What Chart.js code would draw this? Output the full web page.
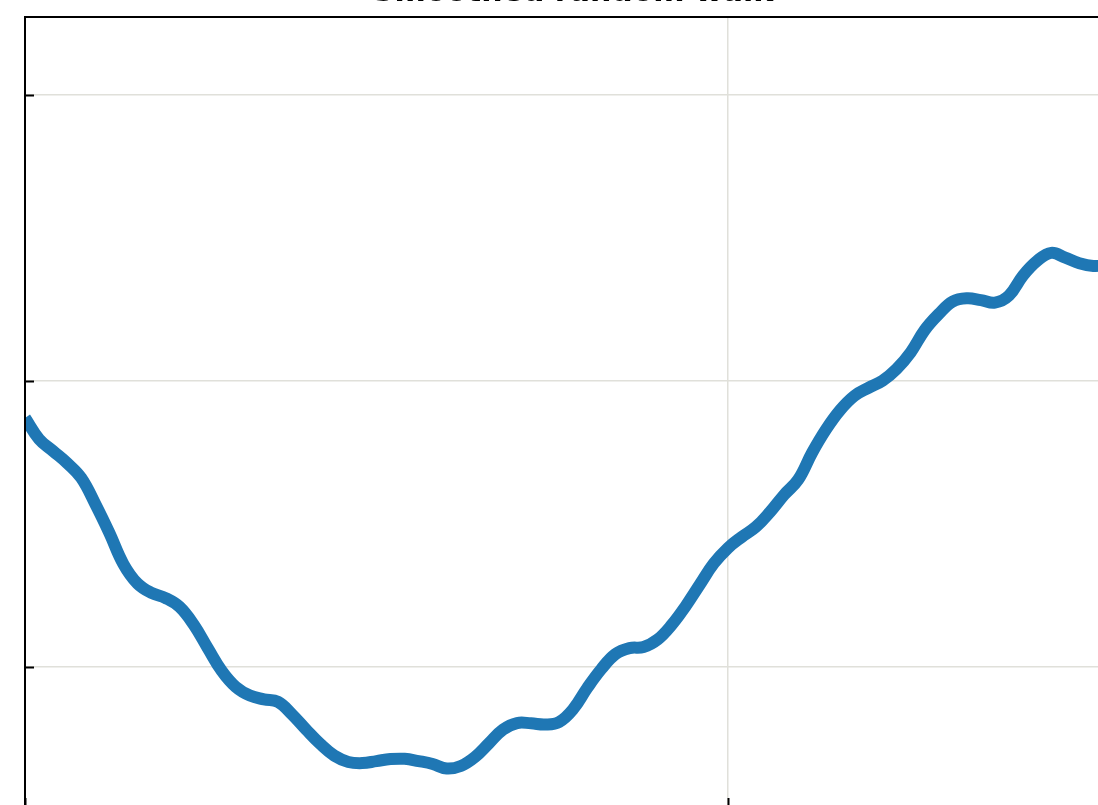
<!DOCTYPE html>
<html>
<head>
<meta charset="utf-8">
<script src="https://cdn.jsdelivr.net/npm/chart.js@4"></script>
<style>
    html, body { margin: 0; padding: 0; background: #fff; overflow: hidden; }
    #wrap { position: absolute; left: 0; top: 0; }
</style>
</head>
<body>
<div id="wrap"><canvas id="walkChart" width="1150" height="830"></canvas></div>
<script>
// x: time step, y: smoothed signal value
const steps = [];
for (let i = 0; i <= 78; i++) steps.push(i * 20);

const signal = [
    -0.129, -0.203, -0.245, -0.287, -0.339, -0.430, -0.531, -0.640, -0.708, -0.741,
    -0.759, -0.790, -0.852, -0.934, -1.014, -1.070, -1.100, -1.113, -1.122, -1.166,
    -1.219, -1.269, -1.310, -1.332, -1.336, -1.329, -1.322, -1.321, -1.329, -1.339,
    -1.355, -1.346, -1.315, -1.267, -1.219, -1.196, -1.197, -1.201, -1.192, -1.147,
    -1.073, -1.007, -0.955, -0.934, -0.930, -0.904, -0.853, -0.787, -0.712, -0.638,
    -0.584, -0.545, -0.510, -0.458, -0.398, -0.345, -0.250, -0.168, -0.101, -0.052,
    -0.024, 0.001, 0.042, 0.100, 0.178, 0.234, 0.278, 0.289, 0.283, 0.274,
    0.299, 0.369, 0.420, 0.448, 0.431, 0.412, 0.402, 0.405, 0.408
];

const titleText = "Smoothed random walk";
const xTicks = [0, 1000];
const yTicks = [-1, 0, 1];

// spines, inward tick marks and the title
const frame = {
    id: "frame",
    afterDraw(chart) {
        const { ctx, chartArea } = chart;
        const xs = chart.scales.x;
        const ys = chart.scales.y;
        ctx.save();
        ctx.strokeStyle = "#000";
        ctx.lineWidth = 2;
        ctx.beginPath();
        ctx.moveTo(chartArea.left, chartArea.bottom);
        ctx.lineTo(chartArea.left, chartArea.top);
        ctx.lineTo(chartArea.right, chartArea.top);
        ctx.lineTo(chartArea.right, chartArea.bottom);
        ctx.closePath();
        ctx.stroke();

        ctx.beginPath();
        yTicks.forEach((v) => {
            const y = Math.round(ys.getPixelForValue(v)) + 0.5;
            ctx.moveTo(chartArea.left, y);
            ctx.lineTo(chartArea.left + 9, y);
        });
        xTicks.forEach((v) => {
            const x = Math.round(xs.getPixelForValue(v)) + 0.5;
            ctx.moveTo(x, chartArea.bottom);
            ctx.lineTo(x, chartArea.bottom - 9);
        });
        ctx.stroke();

        ctx.fillStyle = "#000";
        ctx.font = "bold 30px 'DejaVu Sans'";
        ctx.textAlign = "center";
        ctx.textBaseline = "alphabetic";
        ctx.fillText(titleText, (chartArea.left + chartArea.right) / 2 - 2, chartArea.top - 16.5);
        ctx.restore();
    },
};

const ctx = document.getElementById("walkChart");

new Chart(ctx, {
    type: "line",
    data: {
        labels: steps,
        datasets: [
            {
                data: signal,
                borderColor: "#1f77b4",
                borderWidth: 12,
                pointRadius: 0,
                tension: 0.4,
                fill: false,
                clip: 0,
            },
        ],
    },
    options: {
        responsive: false,
        animation: false,
        layout: {
            padding: { left: 25, right: 25, top: 17, bottom: 23 },
        },
        plugins: {
            legend: { display: false },
            tooltip: { enabled: false },
        },
        scales: {
            x: {
                type: "linear",
                min: 0,
                max: 1565,
                afterBuildTicks: (scale) => {
                    scale.ticks = xTicks.map((v) => ({ value: v }));
                },
                ticks: { display: false },
                grid: { color: "#e0e0da", lineWidth: 1.5, drawTicks: false, tickLength: 0 },
                border: { display: false },
            },
            y: {
                min: -1.4895,
                max: 1.2727,
                afterBuildTicks: (scale) => {
                    scale.ticks = yTicks.map((v) => ({ value: v }));
                },
                ticks: { display: false },
                grid: { color: "#e0e0da", lineWidth: 1.5, drawTicks: false, tickLength: 0 },
                border: { display: false },
            },
        },
    },
    plugins: [frame],
});
</script>
</body>
</html>
